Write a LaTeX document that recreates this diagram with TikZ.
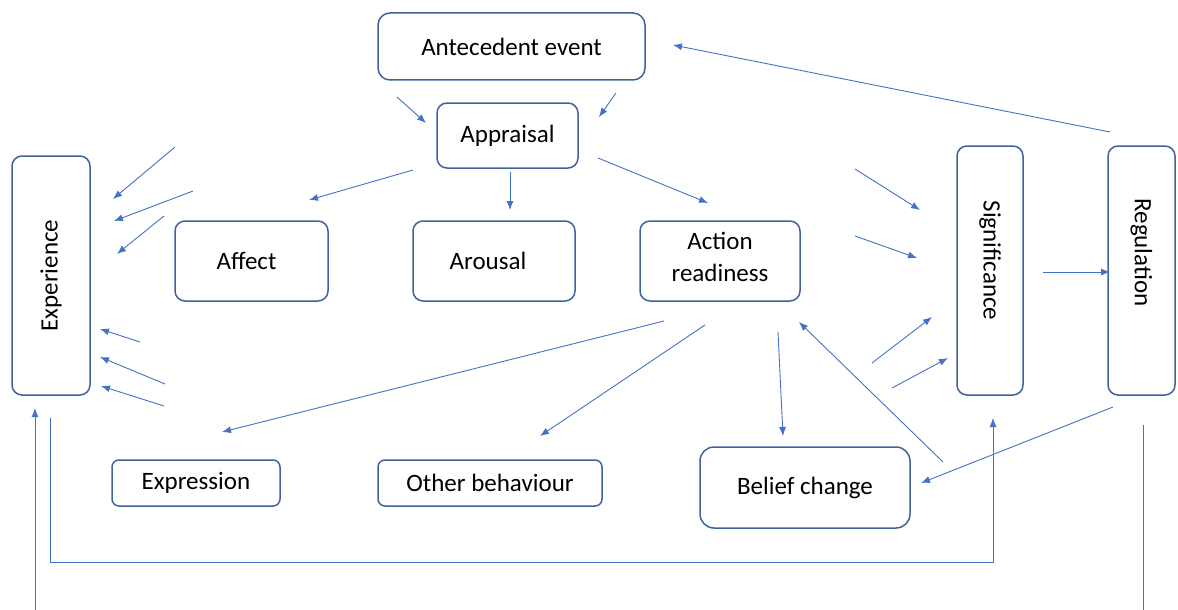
\documentclass[tikz,border=0pt]{standalone}
\usepackage{fontspec}
\setmainfont{Carlito}
\usetikzlibrary{arrows.meta}
\definecolor{boxblue}{HTML}{41639A}
\definecolor{arrowblue}{HTML}{4472C4}
\begin{document}
\begin{tikzpicture}[x=1pt,y=-1pt,
  box/.style={draw=boxblue, line width=1.5pt, rounded corners=10pt, fill=white,
    inner sep=0pt, font=\fontsize{25}{32}\selectfont, align=center},
  link/.style={draw=arrowblue, line width=0.9pt, -{Latex[length=9pt,width=7pt]}},
  plain/.style={draw=arrowblue, line width=0.9pt}]
\useasboundingbox[fill=white] (0,0) rectangle (1178,610);

% boxes
\node[box, minimum width=267pt, minimum height=67pt, rounded corners=12pt] (ante) at (511.5,46.5) {Antecedent event};
\node[box, minimum width=141pt, minimum height=65pt] (appr) at (507.5,135.5) {Appraisal};
\node[box, rotate=90, minimum width=239pt, minimum height=78pt] (exp) at (51,275.5) {Experience};
\node[box, minimum width=153pt, minimum height=80pt] (affect) at (251.5,261) {Affect\hspace{10pt}};
\node[box, minimum width=162pt, minimum height=80pt] (arousal) at (494,261) {Arousal\hspace{12pt}};
\node[box, minimum width=160pt, minimum height=80pt] (action) at (720,261) {Action\\readiness\\[-24pt]\mbox{}};
\node[box, rotate=-90, minimum width=249pt, minimum height=66pt] (sig) at (990,270.5) {Significance\hspace{20pt}};
\node[box, rotate=-90, minimum width=249pt, minimum height=67pt] (reg) at (1141.5,270.5) {Regulation\hspace{36pt}};
\node[box, minimum width=168pt, minimum height=46pt, rounded corners=7pt] (expr) at (196,483) {Expression};
\node[box, minimum width=224pt, minimum height=46pt, rounded corners=7pt] (other) at (490,483) {Other behaviour};
\node[box, minimum width=210pt, minimum height=81pt, rounded corners=14pt] (belief) at (805,487.5) {Belief change};

% free ends of the connectors
\coordinate (e1s) at (175,147);  \coordinate (e1t) at (113,199);
\coordinate (e2s) at (193,191);  \coordinate (e2t) at (114,221);
\coordinate (e3s) at (164,216);  \coordinate (e3t) at (117,254);
\coordinate (e4s) at (140,342);  \coordinate (e4t) at (100,329);
\coordinate (e5s) at (165,384);  \coordinate (e5t) at (100,357);
\coordinate (e6s) at (164,406);  \coordinate (e6t) at (101,386);
\coordinate (a1s) at (397,97);   \coordinate (a1t) at (426,123);
\coordinate (a2s) at (616,93);   \coordinate (a2t) at (599,117);
\coordinate (p1s) at (413,170);  \coordinate (p1t) at (309,200);
\coordinate (p2s) at (510,172);  \coordinate (p2t) at (510,210);
\coordinate (p3s) at (598,158);  \coordinate (p3t) at (708,203);
\coordinate (s1s) at (855,169);  \coordinate (s1t) at (920,210);
\coordinate (s2s) at (855,236);  \coordinate (s2t) at (917,258);
\coordinate (s3s) at (872,363);  \coordinate (s3t) at (932,317);
\coordinate (s4s) at (892,388);  \coordinate (s4t) at (948,358);
\coordinate (srs) at (1043,272); \coordinate (srt) at (1110,272);
\coordinate (ras) at (1110,132); \coordinate (rat) at (673,45);
\coordinate (rbs) at (1113,407); \coordinate (rbt) at (921,483);
\coordinate (x1s) at (664,321);  \coordinate (x1t) at (222,432);
\coordinate (x2s) at (705,325);  \coordinate (x2t) at (540,436);
\coordinate (x3s) at (778,332);  \coordinate (x3t) at (783,436);
\coordinate (bas) at (943,462);  \coordinate (bat) at (799,322);
\coordinate (ups) at (35,610);   \coordinate (upt) at (35,408);
\coordinate (fbs) at (50,418);   \coordinate (fbl) at (50,562);
\coordinate (fbr) at (993,562);  \coordinate (fbt) at (993,418);
\coordinate (rls) at (1143,425); \coordinate (rlt) at (1143,610);

% arrows into Experience
\draw[link] (e1s) -- (e1t);
\draw[link] (e2s) -- (e2t);
\draw[link] (e3s) -- (e3t);
\draw[link] (e4s) -- (e4t);
\draw[link] (e5s) -- (e5t);
\draw[link] (e6s) -- (e6t);
% antecedent event to appraisal
\draw[link] (a1s) -- (a1t);
\draw[link] (a2s) -- (a2t);
% appraisal outputs
\draw[link] (p1s) -- (p1t);
\draw[link] (p2s) -- (p2t);
\draw[link] (p3s) -- (p3t);
% arrows into Significance
\draw[link] (s1s) -- (s1t);
\draw[link] (s2s) -- (s2t);
\draw[link] (s3s) -- (s3t);
\draw[link] (s4s) -- (s4t);
% regulation loop
\draw[link] (srs) -- (srt);
\draw[link] (ras) -- (rat);
\draw[link] (rbs) -- (rbt);
% action readiness outputs
\draw[link] (x1s) -- (x1t);
\draw[link] (x2s) -- (x2t);
\draw[link] (x3s) -- (x3t);
\draw[link] (bas) -- (bat);
% bottom feedback lines
\draw[link] (ups) -- (upt);
\draw[link] (fbs) -- (fbl) -- (fbr) -- (fbt);
\draw[plain] (rls) -- (rlt);
\end{tikzpicture}
\end{document}
